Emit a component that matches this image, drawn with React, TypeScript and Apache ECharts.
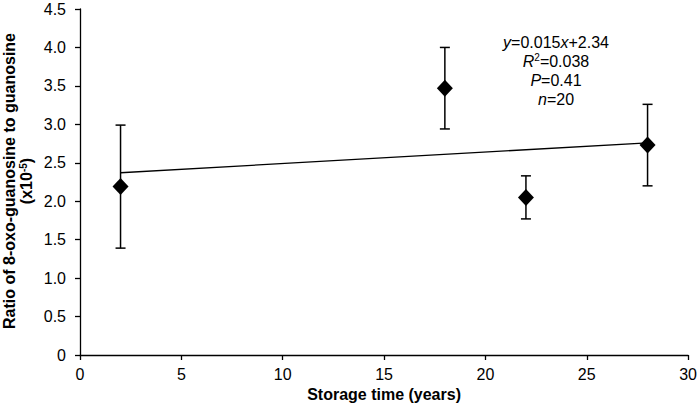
import React, { useEffect, useRef } from 'react';
import * as echarts from 'echarts';

const years = [2, 18, 22, 28];
const ratios = [2.19, 3.47, 2.05, 2.73];
const errLow = [1.39, 2.94, 1.77, 2.2];
const errHigh = [2.99, 4.0, 2.33, 3.26];
const fitSlope = 0.015;
const fitIntercept = 2.34;
const fitRange = [2, 28];

const FONT = '"Liberation Sans", Arial, sans-serif';

export default function App() {
  const ref = useRef<HTMLDivElement>(null);
  useEffect(() => {
    if (!ref.current) return;
    const chart = echarts.init(ref.current, undefined, { renderer: 'svg' });
    const points = years.map((x, i) => [x, ratios[i]]);
    const bars = years.map((x, i) => [x, errLow[i], errHigh[i]]);
    const fit = fitRange.map((x) => [x, fitSlope * x + fitIntercept]);
    const axisCommon = {
      axisLine: { show: true, lineStyle: { color: '#000', width: 1.3 } },
      axisTick: { show: true, inside: false, length: 5, lineStyle: { color: '#000', width: 1.3 } },
      splitLine: { show: false },
    };
    chart.setOption({
      animation: false,
      backgroundColor: '#fff',
      grid: { left: 80, right: 10, top: 9, bottom: 56 },
      xAxis: {
        type: 'value',
        min: 0,
        max: 30,
        interval: 5,
        ...axisCommon,
        axisLabel: { color: '#000', fontSize: 16, fontFamily: FONT, margin: 11 },
        name: 'Storage time (years)',
        nameLocation: 'middle',
        nameGap: 28,
        nameTextStyle: { color: '#000', fontSize: 16, fontWeight: 'bold', fontFamily: FONT },
      },
      yAxis: {
        type: 'value',
        min: 0,
        max: 4.5,
        interval: 0.5,
        ...axisCommon,
        axisLabel: {
          color: '#000',
          fontSize: 16,
          fontFamily: FONT,
          margin: 14,
          formatter: (v: number) => (v === 0 ? '0' : v.toFixed(1)),
        },
      },
      graphic: [
        {
          type: 'text',
          x: 18,
          y: 181,
          rotation: Math.PI / 2,
          style: {
            text: 'Ratio of 8-oxo-guanosine to guanosine\n(x10{s|-5})',
            fill: '#000',
            fontSize: 16,
            fontWeight: 'bold',
            fontFamily: FONT,
            lineHeight: 17,
            align: 'center',
            verticalAlign: 'middle',
            rich: {
              s: { fontSize: 10, fontWeight: 'bold', fontFamily: FONT, verticalAlign: 'top', fill: '#000' },
            },
          },
        },
        {
          type: 'text',
          x: 556,
          y: 33,
          style: {
            text: '{i|y}{n|=0.015}{i|x}{n|+2.34}\n{i|R}{s|2}{n|=0.038}\n{i|P}{n|=0.41}\n{i|n}{n|=20}',
            fill: '#000',
            fontSize: 16,
            fontFamily: FONT,
            lineHeight: 19,
            align: 'center',
            verticalAlign: 'top',
            rich: {
              i: { fontSize: 16, fontStyle: 'italic', fontFamily: FONT, fill: '#000', lineHeight: 19 },
              n: { fontSize: 16, fontFamily: FONT, fill: '#000', lineHeight: 19 },
              s: { fontSize: 10, fontFamily: FONT, fill: '#000', verticalAlign: 'top', lineHeight: 19 },
            },
          },
        },
      ],
      series: [
        {
          type: 'line',
          data: fit,
          symbol: 'none',
          lineStyle: { color: '#000', width: 1.3 },
          z: 1,
        },
        {
          type: 'custom',
          data: bars,
          z: 2,
          renderItem: (params: any, api: any) => {
            const x = api.value(0);
            const lo = api.coord([x, api.value(1)]);
            const hi = api.coord([x, api.value(2)]);
            const w = 5;
            const st = { stroke: '#000', lineWidth: 1.5 };
            return {
              type: 'group',
              children: [
                { type: 'line', shape: { x1: lo[0], y1: lo[1], x2: hi[0], y2: hi[1] }, style: st },
                { type: 'line', shape: { x1: lo[0] - w, y1: lo[1], x2: lo[0] + w, y2: lo[1] }, style: st },
                { type: 'line', shape: { x1: hi[0] - w, y1: hi[1], x2: hi[0] + w, y2: hi[1] }, style: st },
              ],
            };
          },
        },
        {
          type: 'scatter',
          data: points,
          symbol: 'diamond',
          symbolSize: [16, 17],
          itemStyle: { color: '#000', opacity: 1 },
          z: 3,
        },
      ],
    });
    return () => chart.dispose();
  }, []);
  return <div ref={ref} style={{ width: 700, height: 411, position: 'absolute', left: 0, top: 0 }} />;
}
